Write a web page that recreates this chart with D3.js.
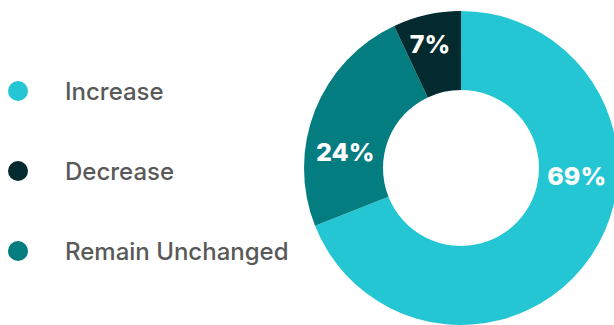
<!DOCTYPE html>
<html>
<head>
<meta charset="utf-8">
<script src="https://cdn.jsdelivr.net/npm/d3@7"></script>
<style>
  html, body { margin: 0; padding: 0; background: #ffffff; }
  svg { display: block; }
</style>
</head>
<body>
<svg id="chart" width="614" height="325"></svg>
<script>
// Expected change in outlook, share of respondents
const categories = ["Increase", "Remain Unchanged", "Decrease"];
const values = [69, 24, 7];
const legendOrder = ["Increase", "Decrease", "Remain Unchanged"];

const colors = {
  "Increase": "#25c6d3",
  "Remain Unchanged": "#037d80",
  "Decrease": "#032a2e"
};

// label placement around the ring (degrees clockwise from 12 o'clock, radius)
const labelLayout = {
  "Increase": { angle: 94, radius: 116 },
  "Remain Unchanged": { angle: 278, radius: 117 },
  "Decrease": { angle: 346, radius: 128 }
};

const svg = d3.select("#chart");
const cx = 461, cy = 168, outerR = 157, innerR = 78;

const data = categories.map((c, i) => ({ name: c, value: values[i] }));

const pie = d3.pie()
  .value(d => d.value)
  .sort(null);

const arc = d3.arc().innerRadius(innerR).outerRadius(outerR);

const g = svg.append("g").attr("transform", `translate(${cx},${cy})`);

g.selectAll("path.slice")
  .data(pie(data))
  .join("path")
  .attr("class", "slice")
  .attr("d", arc)
  .attr("fill", d => colors[d.data.name]);

g.selectAll("text.pct")
  .data(pie(data))
  .join("text")
  .attr("class", "pct")
  .attr("x", d => labelLayout[d.data.name].radius * Math.sin(labelLayout[d.data.name].angle * Math.PI / 180))
  .attr("y", d => -labelLayout[d.data.name].radius * Math.cos(labelLayout[d.data.name].angle * Math.PI / 180))
  .attr("text-anchor", "middle")
  .attr("dominant-baseline", "central")
  .attr("fill", "#ffffff")
  .attr("font-family", "Inter, 'Open Sans', sans-serif")
  .attr("font-weight", 800)
  .attr("font-size", 25)
  .text(d => d.data.value + "%");

// legend
const legendY = d3.scalePoint().domain(legendOrder).range([91, 251]);

const legend = svg.append("g");
const items = legend.selectAll("g.item")
  .data(legendOrder)
  .join("g")
  .attr("class", "item")
  .attr("transform", d => `translate(0,${legendY(d)})`);

items.append("circle")
  .attr("cx", 18)
  .attr("cy", 0)
  .attr("r", 10)
  .attr("fill", d => colors[d]);

items.append("text")
  .attr("x", 65)
  .attr("y", 0)
  .attr("dominant-baseline", "central")
  .attr("fill", "#595959")
  .attr("font-family", "Inter, 'Open Sans', sans-serif")
  .attr("font-weight", 500)
  .attr("font-size", 24)
  .text(d => d);
</script>
</body>
</html>
